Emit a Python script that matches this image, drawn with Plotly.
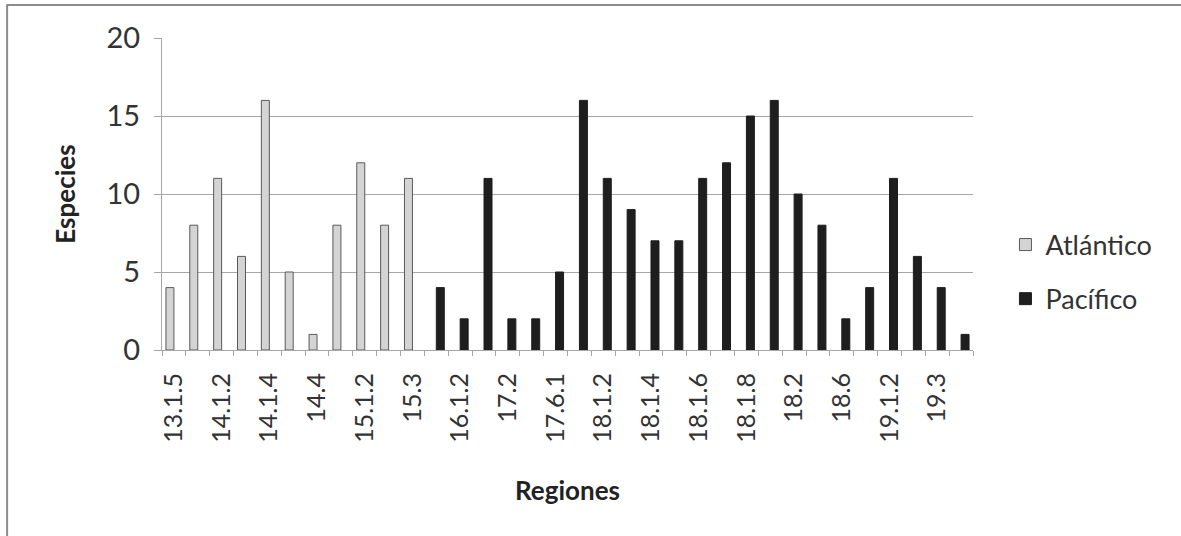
import plotly.graph_objects as go

# Regions along the coast (category axis)
regiones = ["13.1.5", "14.1.1", "14.1.2", "14.1.3", "14.1.4", "14.3", "14.4",
            "15.1.1", "15.1.2", "15.2", "15.3", "16.1.1", "16.1.2", "17.1",
            "17.2", "17.6", "17.6.1", "18.1.1", "18.1.2", "18.1.3", "18.1.4",
            "18.1.5", "18.1.6", "18.1.7", "18.1.8", "18.1.9", "18.2", "18.4",
            "18.6", "19.1.1", "19.1.2", "19.2", "19.3", "19.4"]

# Species counts per ocean (None where the region belongs to the other ocean)
especies_atlantico = [4, 8, 11, 6, 16, 5, 1, 8, 12, 8, 11] + [None] * 23
especies_pacifico = [None] * 11 + [4, 2, 11, 2, 2, 5, 16, 11, 9, 7, 7, 11,
                                   12, 15, 16, 10, 8, 2, 4, 11, 6, 4, 1]

# Every other region carries a visible label
etiquetas = [r if i % 2 == 0 else "" for i, r in enumerate(regiones)]

FONT = "Lato"
GRID = "#a6a6a6"
TXT = "#333333"

fig = go.Figure()
fig.add_trace(go.Bar(
    name="Atlántico", x=regiones, y=especies_atlantico,
    marker=dict(color="#d4d4d4", line=dict(color="#5a5a5a", width=1)),
    legendgroup="a",
))
fig.add_trace(go.Bar(
    name="Pacífico", x=regiones, y=especies_pacifico,
    marker=dict(color="#1e1e1e", line=dict(color="#1e1e1e", width=1)),
    legendgroup="p",
))

fig.update_layout(
    width=1181, height=536,
    margin=dict(l=162, r=208, t=38, b=186),
    paper_bgcolor="white", plot_bgcolor="white",
    barmode="group", bargap=0.33, bargroupgap=0,
    font=dict(family=FONT, color=TXT),
    legend=dict(
        x=1.04, y=0.25, xanchor="left", yanchor="middle",
        font=dict(family=FONT, size=27, color=TXT),
        tracegroupgap=16, traceorder="grouped",
        itemwidth=30,
    ),
    xaxis=dict(
        type="category", categoryorder="array", categoryarray=regiones,
        range=[-0.5, len(regiones) - 0.5],
        tickmode="array", tickvals=regiones, ticktext=etiquetas,
        tickson="boundaries", ticks="outside", ticklen=5, tickcolor=GRID,
        tickangle=-90, tickfont=dict(family=FONT, size=25, color=TXT),
        ticklabelstandoff=12,
        showline=True, linecolor=GRID, linewidth=1,
        showgrid=False,
    ),
    yaxis=dict(
        range=[0, 20], dtick=5, tick0=0,
        ticks="outside", ticklen=7, tickcolor=GRID,
        tickfont=dict(family=FONT, size=29, color=TXT),
        ticklabelstandoff=8,
        showline=True, linecolor=GRID, linewidth=1,
        showgrid=True, gridcolor=GRID, gridwidth=1,
        zeroline=False,
    ),
    annotations=[
        dict(text="<b>Especies</b>", xref="paper", yref="paper",
             x=-0.12, xanchor="center", y=0.5, textangle=-90, showarrow=False,
             font=dict(family=FONT, size=26, color="#222222")),
        dict(text="<b>Regiones</b>", xref="paper", yref="paper",
             x=0.5, y=-0.45, yanchor="middle", showarrow=False,
             font=dict(family=FONT, size=26, color="#222222")),
    ],
    shapes=[
        dict(type="line", xref="paper", yref="paper",
             x0=-0.191, x1=-0.191, y0=-0.7, y1=1.106,
             line=dict(color="#8c8c8c", width=2)),
        dict(type="line", xref="paper", yref="paper",
             x0=-0.192, x1=1.26, y0=1.106, y1=1.106,
             line=dict(color="#8c8c8c", width=2)),
    ],
)

fig.write_html("out.html")
